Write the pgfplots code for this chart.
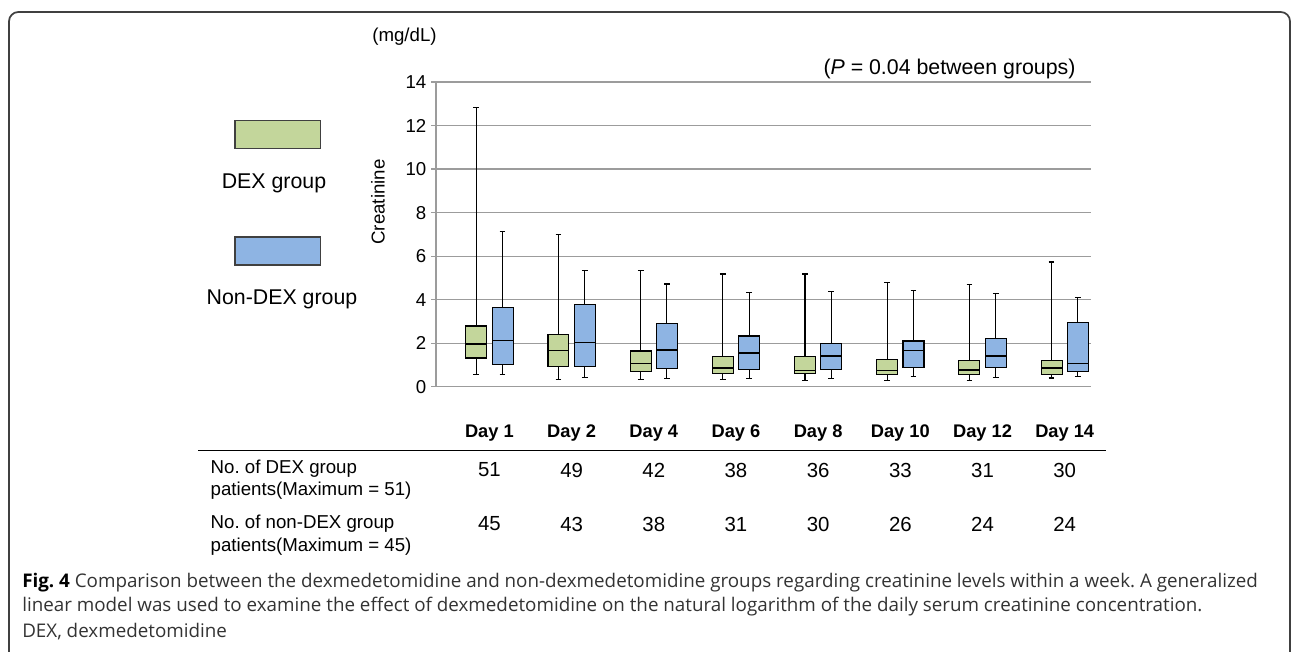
\documentclass[border=0pt]{standalone}
\usepackage{fontspec}
\setmainfont{Liberation Sans}
\newfontfamily\capfont{Open Sans}
\usepackage{pgfplots}
\pgfplotsset{compat=1.18}
\usepgfplotslibrary{statistics}

\definecolor{dexgreen}{HTML}{C3D69B}
\definecolor{nonblue}{HTML}{8EB4E3}
\definecolor{gridgray}{HTML}{9C9C9C}
\definecolor{capgray}{HTML}{333333}

\newcommand{\fs}[1]{\fontsize{#1}{1.2\dimexpr#1pt\relax}\selectfont}
\frenchspacing

\begin{document}
\begin{tikzpicture}[x=0.75pt,y=0.75pt]
\path[use as bounding box] (0,0) rectangle (1292,651);
% frame
\draw[line width=1.3pt, black!75, rounded corners=7pt] (9,-10) -- (9,639) -- (1290,639) -- (1290,-10);

% legend
\draw[fill=dexgreen, draw=black!75, line width=0.8pt] (235,502.7) rectangle (320.7,530.3);
\node[font=\fs{16}] at (274,468) {DEX group};
\draw[fill=nonblue, draw=black!75, line width=0.8pt] (235,386) rectangle (320.7,414);
\node[font=\fs{16}] at (282,352) {Non-DEX group};

% axis texts
\node[font=\fs{14}] at (404.5,614) {(mg/dL)};
\node[font=\fs{14}, rotate=90] at (378,449) {Creatinine};
\node[font=\fs{16}] at (949.5,582) {(\textit{P} = 0.04 between groups)};

% table
\draw[line width=1.1pt] (198,200.3) -- (1106,200.3);
\node[font=\fs{14}, anchor=west] at (206,182) {No. of DEX group};
\node[font=\fs{14}, anchor=west] at (206,160) {patients(Maximum = 51)};
\node[font=\fs{14}, anchor=west] at (206,127) {No. of non-DEX group};
\node[font=\fs{14}, anchor=west] at (206,104) {patients(Maximum = 45)};

% caption
\node[font=\capfont\fs{14.1}, text=capgray, anchor=west, inner sep=0pt] at (22,68) {\textcolor{black}{\textbf{Fig. 4}} Comparison between the dexmedetomidine and non-dexmedetomidine groups regarding creatinine levels within a week. A generalized};
\node[font=\capfont\fs{14.1}, text=capgray, anchor=west, inner sep=0pt] at (22,44) {linear model was used to examine the effect of dexmedetomidine on the natural logarithm of the daily serum creatinine concentration.};
\node[font=\capfont\fs{14.1}, text=capgray, anchor=west, inner sep=0pt] at (22,19) {DEX, dexmedetomidine};

\coordinate (axorig) at (436,264.3);
\begin{axis}[
  at={(axorig)}, anchor=south west, scale only axis,
  width=491.25pt, height=228.5pt,
  xmin=-0.65, xmax=7.32, ymin=0, ymax=14,
  axis lines*=left,
  axis line style={gridgray, line width=0.9pt},
  ytick={0,2,...,14},
  ymajorgrids, grid style={gridgray, line width=0.9pt},
  tick align=outside, major tick length=3.75pt,
  ytick style={gridgray, line width=0.9pt},
  xtick={0,...,7},
  xticklabels={Day 1,Day 2,Day 4,Day 6,Day 8,Day 10,Day 12,Day 14},
  xtick style={draw=none},
  xticklabel style={anchor=center, yshift=-31pt, font=\fs{13.7}\bfseries},
  yticklabel style={font=\fs{14}},
  /pgf/number format/assume math mode=true,
  clip=false,
  boxplot/draw direction=y,
  boxplot/box extend=0.255,
  boxplot/whisker extend=0.07,
  boxplot/every median/.style={line width=1.2pt},
  dex/.style={fill=dexgreen, draw=black, line width=0.8pt},
  non/.style={fill=nonblue, draw=black, line width=0.8pt},
]
% Day 1
\addplot[dex, boxplot prepared={draw position=-0.16, lower whisker=0.58, lower quartile=1.32, median=1.95, upper quartile=2.79, upper whisker=12.85}] coordinates {};
\addplot[non, boxplot prepared={draw position=0.16, lower whisker=0.55, lower quartile=1.01, median=2.13, upper quartile=3.62, upper whisker=7.15}] coordinates {};
% Day 2
\addplot[dex, boxplot prepared={draw position=0.84, lower whisker=0.31, lower quartile=0.94, median=1.66, upper quartile=2.41, upper whisker=7.0}] coordinates {};
\addplot[non, boxplot prepared={draw position=1.16, lower whisker=0.41, lower quartile=0.94, median=2.04, upper quartile=3.77, upper whisker=5.33}] coordinates {};
% Day 4
\addplot[dex, boxplot prepared={draw position=1.84, lower whisker=0.34, lower quartile=0.71, median=1.06, upper quartile=1.64, upper whisker=5.33}] coordinates {};
\addplot[non, boxplot prepared={draw position=2.16, lower whisker=0.36, lower quartile=0.83, median=1.70, upper quartile=2.90, upper whisker=4.72}] coordinates {};
% Day 6
\addplot[dex, boxplot prepared={draw position=2.84, lower whisker=0.34, lower quartile=0.62, median=0.85, upper quartile=1.38, upper whisker=5.18}] coordinates {};
\addplot[non, boxplot prepared={draw position=3.16, lower whisker=0.36, lower quartile=0.77, median=1.56, upper quartile=2.33, upper whisker=4.34}] coordinates {};
% Day 8
\addplot[dex, boxplot prepared={draw position=3.84, lower whisker=0.29, lower quartile=0.60, median=0.74, upper quartile=1.38, upper whisker=5.18}] coordinates {};
\addplot[non, boxplot prepared={draw position=4.16, lower whisker=0.36, lower quartile=0.77, median=1.41, upper quartile=2.00, upper whisker=4.38}] coordinates {};
% Day 10
\addplot[dex, boxplot prepared={draw position=4.84, lower whisker=0.28, lower quartile=0.54, median=0.74, upper quartile=1.26, upper whisker=4.78}] coordinates {};
\addplot[non, boxplot prepared={draw position=5.16, lower whisker=0.46, lower quartile=0.89, median=1.66, upper quartile=2.10, upper whisker=4.42}] coordinates {};
% Day 12
\addplot[dex, boxplot prepared={draw position=5.84, lower whisker=0.29, lower quartile=0.57, median=0.78, upper quartile=1.21, upper whisker=4.69}] coordinates {};
\addplot[non, boxplot prepared={draw position=6.16, lower whisker=0.41, lower quartile=0.89, median=1.40, upper quartile=2.22, upper whisker=4.29}] coordinates {};
% Day 14
\addplot[dex, boxplot prepared={draw position=6.84, lower whisker=0.40, lower quartile=0.55, median=0.85, upper quartile=1.21, upper whisker=5.73}] coordinates {};
\addplot[non, boxplot prepared={draw position=7.16, lower whisker=0.45, lower quartile=0.72, median=1.07, upper quartile=2.96, upper whisker=4.09}] coordinates {};

% patient counts
\node[font=\fs{15.3}] at (axis cs:0,-3.83) {51};
\node[font=\fs{15.3}] at (axis cs:1,-3.83) {49};
\node[font=\fs{15.3}] at (axis cs:2,-3.83) {42};
\node[font=\fs{15.3}] at (axis cs:3,-3.83) {38};
\node[font=\fs{15.3}] at (axis cs:4,-3.83) {36};
\node[font=\fs{15.3}] at (axis cs:5,-3.83) {33};
\node[font=\fs{15.3}] at (axis cs:6,-3.83) {31};
\node[font=\fs{15.3}] at (axis cs:7,-3.83) {30};
\node[font=\fs{15.3}] at (axis cs:0,-6.31) {45};
\node[font=\fs{15.3}] at (axis cs:1,-6.31) {43};
\node[font=\fs{15.3}] at (axis cs:2,-6.31) {38};
\node[font=\fs{15.3}] at (axis cs:3,-6.31) {31};
\node[font=\fs{15.3}] at (axis cs:4,-6.31) {30};
\node[font=\fs{15.3}] at (axis cs:5,-6.31) {26};
\node[font=\fs{15.3}] at (axis cs:6,-6.31) {24};
\node[font=\fs{15.3}] at (axis cs:7,-6.31) {24};
\end{axis}
\end{tikzpicture}
\end{document}
